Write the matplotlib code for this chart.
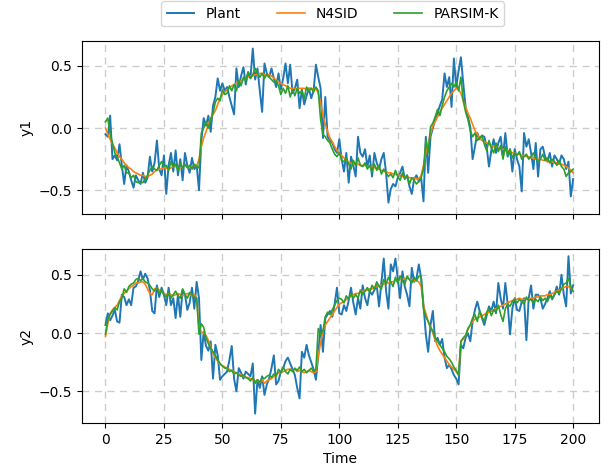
import numpy as np
import matplotlib
matplotlib.use("Agg")
import matplotlib.pyplot as plt

time = list(range(201))

y1_plant = [
    -0.05, -0.07, 0.10, -0.25, -0.22, -0.26, -0.13, -0.30, -0.45, -0.30,
    -0.35, -0.42, -0.48, -0.38, -0.42, -0.45, -0.36, -0.44, -0.40, -0.23,
    -0.35, -0.28, -0.10, -0.33, -0.38, -0.22, -0.53, -0.30, -0.20, -0.35,
    -0.18, -0.38, -0.25, -0.42, -0.20, -0.30, -0.36, -0.24, -0.33, -0.30,
    -0.50, -0.10, 0.08, 0.02, 0.10, -0.03, 0.18, 0.25, 0.40, 0.30,
    0.36, 0.30, 0.33, 0.25, 0.18, 0.11, 0.48, 0.33, 0.42, 0.49,
    0.35, 0.45, 0.40, 0.64, 0.39, 0.48, 0.30, 0.13, 0.52, 0.44,
    0.41, 0.48, 0.40, 0.33, 0.44, 0.31, 0.40, 0.52, 0.36, 0.51,
    0.28, 0.32, 0.39, 0.16, 0.31, 0.19, 0.26, 0.32, 0.24, 0.30,
    0.51, 0.41, 0.32, -0.08, 0.25, -0.07, -0.10, -0.12, -0.17, -0.20,
    -0.09, -0.25, -0.35, -0.20, -0.44, -0.23, -0.30, -0.39, -0.07, -0.20,
    -0.23, -0.17, -0.31, -0.22, -0.39, -0.20, -0.28, -0.33, -0.25, -0.20,
    -0.36, -0.60, -0.49, -0.45, -0.47, -0.40, -0.36, -0.31, -0.41, -0.38,
    -0.47, -0.53, -0.41, -0.38, -0.43, -0.40, -0.59, -0.07, -0.36, -0.07,
    0.00, 0.07, 0.12, 0.18, 0.23, 0.44, 0.33, 0.41, 0.17, 0.56,
    0.33, 0.46, 0.57, 0.36, 0.17, 0.09, 0.01, -0.25, -0.15, -0.04,
    -0.09, -0.06, -0.07, -0.15, -0.31, -0.18, -0.09, -0.20, -0.12, -0.07,
    -0.23, -0.04, -0.23, -0.17, -0.35, -0.17, -0.25, -0.31, -0.51, -0.04,
    -0.15, -0.09, -0.20, -0.33, -0.12, -0.39, -0.17, -0.15, -0.23, -0.27,
    -0.20, -0.31, -0.22, -0.25, -0.29, -0.22, -0.25, -0.33, -0.27, -0.55,
    -0.41,
]

y1_n4sid = [
    0.00, -0.05, -0.09, -0.13, -0.16, -0.20, -0.23, -0.25, -0.28, -0.30,
    -0.32, -0.33, -0.35, -0.36, -0.37, -0.38, -0.38, -0.39, -0.39, -0.38,
    -0.37, -0.35, -0.34, -0.33, -0.33, -0.32, -0.32, -0.33, -0.32, -0.31,
    -0.31, -0.32, -0.32, -0.31, -0.30, -0.31, -0.32, -0.31, -0.30, -0.31,
    -0.25, -0.15, -0.08, -0.03, 0.03, 0.08, 0.11, 0.14, 0.19, 0.24,
    0.27, 0.29, 0.31, 0.32, 0.34, 0.35, 0.36, 0.37, 0.38, 0.39,
    0.40, 0.41, 0.42, 0.42, 0.43, 0.43, 0.44, 0.44, 0.43, 0.43,
    0.43, 0.42, 0.40, 0.39, 0.37, 0.36, 0.35, 0.34, 0.33, 0.32,
    0.32, 0.32, 0.31, 0.32, 0.32, 0.32, 0.31, 0.32, 0.32, 0.31,
    0.32, 0.28, 0.20, 0.10, 0.03, -0.03, -0.08, -0.11, -0.15, -0.18,
    -0.20, -0.22, -0.24, -0.26, -0.28, -0.28, -0.29, -0.29, -0.29, -0.30,
    -0.30, -0.30, -0.31, -0.31, -0.31, -0.32, -0.32, -0.33, -0.34, -0.35,
    -0.35, -0.36, -0.36, -0.37, -0.37, -0.38, -0.38, -0.39, -0.39, -0.39,
    -0.40, -0.40, -0.40, -0.41, -0.41, -0.38, -0.30, -0.20, -0.12, -0.05,
    0.02, 0.05, 0.09, 0.13, 0.16, 0.19, 0.22, 0.25, 0.28, 0.30,
    0.32, 0.31, 0.28, 0.22, 0.17, 0.12, 0.08, 0.03, -0.02, -0.05,
    -0.08, -0.10, -0.11, -0.12, -0.13, -0.14, -0.15, -0.15, -0.16, -0.17,
    -0.17, -0.18, -0.18, -0.19, -0.20, -0.20, -0.21, -0.21, -0.22, -0.22,
    -0.23, -0.23, -0.24, -0.24, -0.25, -0.25, -0.25, -0.26, -0.26, -0.27,
    -0.27, -0.27, -0.28, -0.28, -0.29, -0.29, -0.30, -0.31, -0.32, -0.34,
    -0.36,
]

y1_parsim = [
    0.05, 0.08, -0.05, -0.12, -0.20, -0.23, -0.28, -0.33, -0.30, -0.36,
    -0.36, -0.40, -0.38, -0.43, -0.44, -0.43, -0.44, -0.41, -0.38, -0.34,
    -0.31, -0.33, -0.34, -0.30, -0.27, -0.31, -0.30, -0.34, -0.27, -0.31,
    -0.29, -0.34, -0.28, -0.32, -0.29, -0.32, -0.30, -0.33, -0.29, -0.31,
    -0.32, -0.04, 0.00, 0.05, 0.00, 0.07, 0.12, 0.21, 0.24, 0.22,
    0.31, 0.27, 0.28, 0.34, 0.30, 0.35, 0.30, 0.38, 0.34, 0.41,
    0.38, 0.45, 0.40, 0.43, 0.48, 0.44, 0.41, 0.44, 0.40, 0.43,
    0.41, 0.39, 0.37, 0.38, 0.34, 0.27, 0.32, 0.28, 0.34, 0.25,
    0.31, 0.26, 0.32, 0.28, 0.30, 0.24, 0.33, 0.30, 0.32, 0.29,
    0.33, 0.30, 0.07, -0.05, -0.07, -0.10, -0.12, -0.17, -0.21, -0.23,
    -0.20, -0.26, -0.27, -0.24, -0.29, -0.33, -0.26, -0.30, -0.24, -0.30,
    -0.31, -0.28, -0.33, -0.30, -0.35, -0.29, -0.34, -0.30, -0.37, -0.33,
    -0.36, -0.39, -0.37, -0.40, -0.34, -0.39, -0.42, -0.36, -0.41, -0.38,
    -0.45, -0.40, -0.42, -0.45, -0.43, -0.40, -0.33, -0.10, -0.20, 0.01,
    0.04, 0.09, 0.15, 0.10, 0.18, 0.25, 0.30, 0.33, 0.36, 0.33,
    0.37, 0.30, 0.41, 0.22, 0.13, 0.07, -0.02, -0.07, -0.04, -0.10,
    -0.08, -0.06, -0.13, -0.18, -0.10, -0.16, -0.20, -0.12, -0.19, -0.14,
    -0.25, -0.15, -0.22, -0.17, -0.24, -0.20, -0.22, -0.19, -0.25, -0.23,
    -0.21, -0.25, -0.23, -0.20, -0.24, -0.27, -0.25, -0.21, -0.26, -0.24,
    -0.28, -0.25, -0.27, -0.30, -0.26, -0.31, -0.33, -0.39, -0.36, -0.35,
    -0.33,
]

y2_plant = [
    0.07, 0.17, 0.11, 0.15, 0.20, 0.10, 0.09, 0.33, 0.31, 0.24,
    0.29, 0.24, 0.39, 0.40, 0.45, 0.53, 0.46, 0.51, 0.47, 0.37,
    0.19, 0.17, 0.41, 0.31, 0.39, 0.33, 0.24, 0.39, 0.24, 0.30,
    0.13, 0.33, 0.14, 0.37, 0.33, 0.20, 0.26, 0.39, 0.21, 0.44,
    0.30, -0.23, 0.01, -0.11, -0.15, -0.07, -0.39, -0.10, -0.19, -0.40,
    -0.37, -0.35, -0.33, -0.23, -0.11, -0.39, -0.50, -0.30, -0.34, -0.39,
    -0.33, -0.35, -0.37, -0.26, -0.69, -0.40, -0.47, -0.37, -0.53, -0.44,
    -0.39, -0.30, -0.19, -0.44, -0.41, -0.33, -0.30, -0.24, -0.21, -0.26,
    -0.31, -0.36, -0.47, -0.56, -0.16, -0.21, -0.10, -0.19, -0.25, -0.31,
    -0.40, -0.19, 0.07, -0.16, 0.13, 0.16, 0.19, 0.14, 0.25, 0.39,
    0.17, 0.16, 0.24, 0.19, 0.28, 0.39, 0.26, 0.16, 0.30, 0.21,
    0.41, 0.30, 0.24, 0.36, 0.33, 0.37, 0.41, 0.23, 0.44, 0.64,
    0.36, 0.21, 0.59, 0.53, 0.64, 0.47, 0.30, 0.53, 0.40, 0.33,
    0.23, 0.56, 0.44, 0.47, 0.59, 0.47, 0.24, -0.01, -0.16, 0.07,
    0.19, -0.07, -0.04, -0.10, -0.05, -0.21, -0.30, -0.27, -0.31, -0.36,
    -0.39, -0.44, -0.10, -0.13, -0.04, 0.00, -0.07, 0.10, 0.20, 0.27,
    0.19, 0.13, 0.07, 0.15, 0.23, 0.19, 0.27, 0.17, 0.43, 0.30,
    0.21, 0.43, 0.25, -0.01, 0.21, 0.30, 0.20, 0.19, 0.27, 0.30,
    -0.06, 0.30, 0.41, 0.21, 0.33, 0.33, 0.30, 0.21, 0.25, 0.30,
    0.36, 0.29, 0.33, 0.40, 0.33, 0.50, 0.33, 0.23, 0.66, 0.34,
    0.41,
]

y2_n4sid = [
    -0.03, 0.08, 0.17, 0.20, 0.22, 0.24, 0.28, 0.32, 0.34, 0.36,
    0.38, 0.40, 0.41, 0.43, 0.43, 0.44, 0.44, 0.42, 0.38, 0.34,
    0.33, 0.38, 0.39, 0.37, 0.35, 0.34, 0.33, 0.34, 0.33, 0.32,
    0.33, 0.34, 0.33, 0.32, 0.33, 0.34, 0.33, 0.32, 0.33, 0.30,
    0.05, 0.01, 0.00, -0.02, -0.06, -0.12, -0.17, -0.21, -0.24, -0.27,
    -0.28, -0.29, -0.30, -0.31, -0.32, -0.33, -0.34, -0.35, -0.36, -0.37,
    -0.38, -0.38, -0.39, -0.40, -0.41, -0.41, -0.42, -0.40, -0.43, -0.41,
    -0.40, -0.39, -0.37, -0.36, -0.34, -0.34, -0.33, -0.32, -0.31, -0.31,
    -0.32, -0.31, -0.33, -0.32, -0.33, -0.34, -0.33, -0.32, -0.33, -0.34,
    -0.33, -0.20, -0.08, 0.02, 0.07, 0.10, 0.13, 0.16, 0.19, 0.22,
    0.25, 0.26, 0.27, 0.29, 0.30, 0.32, 0.33, 0.34, 0.34, 0.35,
    0.36, 0.36, 0.37, 0.38, 0.38, 0.39, 0.40, 0.41, 0.41, 0.42,
    0.43, 0.43, 0.44, 0.44, 0.45, 0.45, 0.46, 0.46, 0.47, 0.47,
    0.46, 0.46, 0.45, 0.45, 0.44, 0.40, 0.24, 0.17, 0.10, 0.05,
    0.00, -0.06, -0.11, -0.15, -0.18, -0.21, -0.24, -0.27, -0.29, -0.31,
    -0.33, -0.36, -0.07, -0.05, -0.02, 0.03, 0.07, 0.10, 0.12, 0.13,
    0.14, 0.15, 0.16, 0.17, 0.18, 0.19, 0.20, 0.21, 0.22, 0.23,
    0.24, 0.25, 0.26, 0.27, 0.28, 0.29, 0.29, 0.30, 0.29, 0.29,
    0.29, 0.29, 0.30, 0.30, 0.31, 0.31, 0.32, 0.32, 0.32, 0.33,
    0.33, 0.34, 0.35, 0.36, 0.37, 0.38, 0.39, 0.40, 0.40, 0.39,
    0.36,
]

y2_parsim = [
    -0.01, 0.12, 0.16, 0.19, 0.22, 0.20, 0.27, 0.30, 0.38, 0.35,
    0.40, 0.42, 0.43, 0.46, 0.47, 0.45, 0.47, 0.44, 0.43, 0.41,
    0.38, 0.36, 0.39, 0.34, 0.37, 0.33, 0.31, 0.35, 0.30, 0.33,
    0.36, 0.32, 0.30, 0.38, 0.33, 0.30, 0.35, 0.33, 0.31, 0.30,
    -0.01, 0.08, 0.05, -0.04, -0.09, -0.13, -0.16, -0.19, -0.23, -0.26,
    -0.28, -0.30, -0.30, -0.33, -0.32, -0.35, -0.34, -0.36, -0.37, -0.36,
    -0.38, -0.39, -0.41, -0.38, -0.43, -0.40, -0.42, -0.38, -0.39, -0.37,
    -0.36, -0.38, -0.35, -0.37, -0.31, -0.34, -0.29, -0.33, -0.35, -0.31,
    -0.33, -0.30, -0.32, -0.29, -0.33, -0.31, -0.34, -0.32, -0.30, -0.33,
    -0.31, 0.04, -0.01, 0.02, 0.14, 0.18, 0.16, 0.20, 0.24, 0.28,
    0.30, 0.29, 0.26, 0.32, 0.29, 0.34, 0.30, 0.33, 0.30, 0.37,
    0.33, 0.36, 0.39, 0.35, 0.41, 0.38, 0.44, 0.40, 0.38, 0.46,
    0.42, 0.48, 0.44, 0.40, 0.48, 0.43, 0.49, 0.45, 0.42, 0.49,
    0.46, 0.43, 0.48, 0.45, 0.49, 0.48, 0.21, 0.14, 0.10, 0.05,
    0.02, -0.04, -0.07, -0.10, -0.13, -0.16, -0.20, -0.22, -0.25, -0.29,
    -0.32, -0.36, -0.07, -0.04, -0.02, 0.04, 0.07, 0.13, 0.16, 0.10,
    0.19, 0.14, 0.10, 0.18, 0.21, 0.15, 0.20, 0.18, 0.24, 0.16,
    0.10, 0.21, 0.25, 0.23, 0.27, 0.29, 0.26, 0.29, 0.27, 0.25,
    0.31, 0.28, 0.29, 0.26, 0.29, 0.27, 0.31, 0.28, 0.30, 0.27,
    0.32, 0.30, 0.33, 0.36, 0.34, 0.38, 0.42, 0.43, 0.47, 0.40,
    0.36,
]

series_names = ["Plant", "N4SID", "PARSIM-K"]
colors = ["#1f77b4", "#ff7f0e", "#2ca02c"]
widths = [1.4, 1.2, 1.2]

fig = plt.figure(figsize=(6.08, 4.72), dpi=100)
ax1 = fig.add_axes([0.135, 0.547, 0.850, 0.366])
ax2 = fig.add_axes([0.135, 0.104, 0.850, 0.368], sharex=ax1)

for ax, data, ylab, ylim in [
    (ax1, [y1_plant, y1_n4sid, y1_parsim], "y1", (-0.69, 0.70)),
    (ax2, [y2_plant, y2_n4sid, y2_parsim], "y2", (-0.77, 0.72)),
]:
    for vals, name, c, lw in zip(data, series_names, colors, widths):
        ax.plot(time, vals, color=c, lw=lw, label=name)
    ax.set_ylabel(ylab)
    ax.set_ylim(*ylim)
    ax.set_yticks([-0.5, 0.0, 0.5])
    ax.grid(True, linestyle=(0, (5, 4)), color="#cccccc", linewidth=1.0)
    ax.set_axisbelow(True)

ax1.set_xlim(-10, 211)
ax1.set_xticks([0, 25, 50, 75, 100, 125, 150, 175, 200])
plt.setp(ax1.get_xticklabels(), visible=False)
ax2.set_xlabel("Time")

handles, labels = ax1.get_legend_handles_labels()
fig.legend(handles, labels, loc="upper center", ncol=3,
           bbox_to_anchor=(0.547, 1.012), frameon=True, columnspacing=2.6)

fig.savefig("out.png", dpi=100)
